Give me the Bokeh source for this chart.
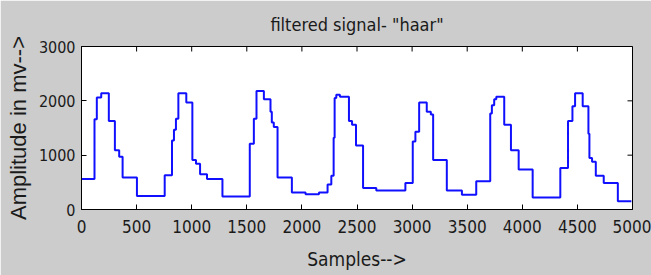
import math
from bokeh.plotting import figure
from bokeh.models import FixedTicker, Range1d
from bokeh.embed import file_html
from bokeh.resources import INLINE

# step edges (samples) and filtered amplitude (mV) held from each edge
samples = [0, 118, 139, 179, 248, 303, 342, 373, 503, 755, 821, 839, 857, 879, 951,
           1006, 1039, 1076, 1139, 1279, 1527, 1564, 1588, 1655, 1715, 1727, 1745, 1779,
           1909, 2033, 2155, 2233, 2267, 2288, 2297, 2312, 2345, 2427, 2455, 2491, 2555,
           2675, 2939, 3006, 3030, 3064, 3133, 3170, 3191, 3315, 3452, 3582, 3709, 3724,
           3745, 3764, 3836, 3897, 3967, 4094, 4345, 4415, 4455, 4479, 4548, 4600, 4609,
           4633, 4667, 4739, 4867, 4990]
amplitude = [560, 1660, 2060, 2140, 1630, 1090, 970, 590, 250, 630, 1270, 1470, 1670, 2140, 1970,
             910, 840, 650, 560, 240, 1210, 1670, 2180, 2030, 1800, 1600, 1520, 590,
             315, 280, 315, 460, 620, 1320, 2050, 2110, 2075, 1630, 1560, 1180, 395,
             350, 490, 1250, 1430, 1970, 1800, 1750, 910, 350, 270, 520, 1765, 1920,
             2030, 2075, 1560, 1090, 735, 220, 765, 1630, 1900, 2140, 1900, 1395, 950,
             880, 620, 490, 150, 150]

x_ticks = [0, 500, 1000, 1500, 2000, 2500, 3000, 3500, 4000, 4500, 5000]
y_ticks = [0, 1000, 2000, 3000]

title_text = 'filtered signal- "haar"'
x_label = "Samples-->"
y_label = "Amplitude in mv-->"

BG = "#cccccc"
TXT = "#1a1a1a"
NARROW = "DejaVu Sans Condensed, Roboto Condensed, Liberation Sans Narrow, Liberation Sans"

p = figure(width=651, height=275, output_backend="svg", toolbar_location=None,
           x_range=Range1d(x_ticks[0], x_ticks[-1]), y_range=Range1d(y_ticks[0], y_ticks[-1]),
           min_border_left=81, min_border_right=19, min_border_top=46, min_border_bottom=66,
           background_fill_color="white", border_fill_color=BG,
           x_axis_label=x_label, y_axis_label=y_label)

p.title.text = title_text
p.title.align = "center"
p.title.text_font = NARROW
p.title.text_font_size = "18px"
p.title.text_font_style = "normal"
p.title.text_color = TXT
p.title.standoff = 23

p.grid.visible = False
p.outline_line_color = "black"
p.outline_line_width = 1

p.step(samples, amplitude, mode="after", line_color="#1010ff", line_width=2)

# inward ticks on the top and right edges of the box
p.scatter(x_ticks, [y_ticks[-1]] * len(x_ticks), marker="dash", angle=math.pi / 2,
          size=10, line_color="black", line_width=1)
p.scatter([x_ticks[-1]] * len(y_ticks), y_ticks, marker="dash",
          size=10, line_color="black", line_width=1)

for ax, ticks in ((p.xaxis[0], x_ticks), (p.yaxis[0], y_ticks)):
    ax.ticker = FixedTicker(ticks=ticks)
    ax.major_tick_in = 5
    ax.major_tick_out = 0
    ax.minor_tick_in = 0
    ax.minor_tick_out = 0
    ax.axis_line_color = "black"
    ax.major_tick_line_color = "black"
    ax.major_label_text_font = NARROW
    ax.major_label_text_color = TXT
    ax.axis_label_text_color = TXT
    ax.axis_label_text_font_style = "normal"

p.xaxis.major_label_text_font_size = "17px"
p.xaxis.major_label_standoff = 10
p.xaxis.axis_label_text_font = NARROW
p.xaxis.axis_label_text_font_size = "19px"
p.xaxis.axis_label_standoff = 12

p.yaxis.major_label_text_font_size = "16px"
p.yaxis.major_label_standoff = 6
p.yaxis.axis_label_text_font = "Liberation Sans"
p.yaxis.axis_label_text_font_size = "22px"
p.yaxis.axis_label_standoff = 5

open("out.html", "w").write(file_html(p, INLINE))
